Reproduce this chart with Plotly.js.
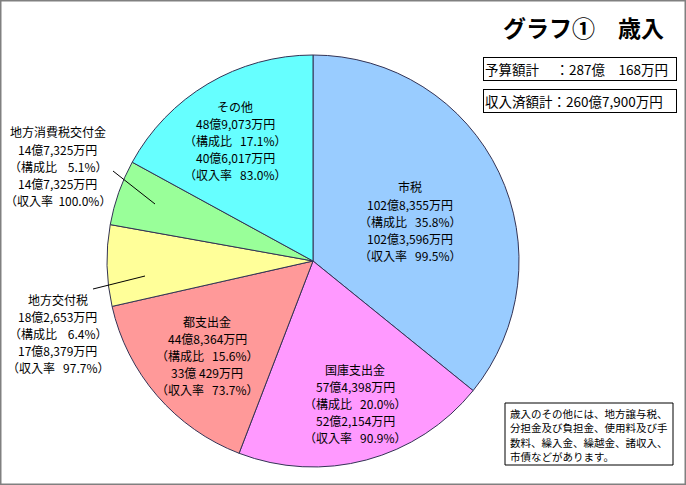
<!DOCTYPE html>
<html><head><meta charset="utf-8">
<script src="https://cdn.plot.ly/plotly-3.0.1.min.js"></script>
<style>html,body{margin:0;padding:0;background:#fff}</style>
</head><body><div id="chart" style="width:686px;height:485px"></div>
<script>
// Data (units: 万円)
const categories = ["市税","国庫支出金","都支出金","地方交付税","地方消費税交付金","その他"];
const budget = [1028355, 574398, 448364, 182653, 147325, 489073];
const revenue = [1023596, 522154, 330429, 178379, 147325, 406017];
const shareLabels = ["35.8%","20.0%","15.6%","6.4%","5.1%","17.1%"];
const rateLabels = ["99.5%","90.9%","73.7%","97.7%","100.0%","83.0%"];
const colors = ["#99CCFF","#FF99FF","#FF9999","#FFFF99","#99FF99","#66FFFF"];
const budgetTotal = "287億　168万円";
const revenueTotal = "260億7,900万円";
const noteLines = ["歳入のその他には、地方譲与税、","分担金及び負担金、使用料及び手","数料、繰入金、繰越金、諸収入、","市債などがあります。"];

function fmt(v){
  const oku = Math.floor(v/10000), man = v%10000;
  let m = man.toLocaleString("en-US");
  if (man < 1000) m = " " + m;
  return oku + "億" + m + "万円";
}
function pad(s, n){ while (s.length < n) s = " " + s; return s; }

const W = 686, H = 485;
const px = x => x/W, py = y => 1 - y/H;
const FAM = "Noto Sans CJK JP, sans-serif";

// label anchor positions (pixel, center x, first line center y)
const labelPos = [[410,187],[355,369],[207,321],[58,299],[58,132],[235,106]];
const LH = 17.2;
const font = {family:FAM, size:12, color:"#000"};

const annotations = [];
categories.forEach((c,i)=>{
  const lines = [c, fmt(budget[i]), "（構成比 " + pad(shareLabels[i],7) + "）",
                 fmt(revenue[i]), "（収入率 " + pad(rateLabels[i],7) + "）"];
  lines.forEach((t,k)=>annotations.push({
    xref:"paper", yref:"paper", x:px(labelPos[i][0]), y:py(labelPos[i][1] + k*LH),
    xanchor:"center", yanchor:"middle", showarrow:false, font:font, text:t, borderpad:0
  }));
});

annotations.push({xref:"paper",yref:"paper",x:px(583),y:py(27),xanchor:"center",yanchor:"middle",
  showarrow:false,text:"<b>グラフ①　歳入</b>",font:{family:FAM,size:23,color:"#000"}});
annotations.push({xref:"paper",yref:"paper",x:px(483),y:py(57),xanchor:"left",yanchor:"top",
  showarrow:false,text:"予算額計　 ：" + budgetTotal,align:"left",width:190,height:20,
  bordercolor:"#000",borderwidth:1,borderpad:1,bgcolor:"#fff",
  font:{family:FAM,size:13.5,color:"#000"}});
annotations.push({xref:"paper",yref:"paper",x:px(483),y:py(89),xanchor:"left",yanchor:"top",
  showarrow:false,text:"収入済額計：" + revenueTotal,align:"left",width:190,height:20,
  bordercolor:"#000",borderwidth:1,borderpad:1,bgcolor:"#fff",
  font:{family:FAM,size:13.5,color:"#000"}});
noteLines.forEach((t,k)=>annotations.push({xref:"paper",yref:"paper",x:px(509),y:py(413+k*14.5),
  xanchor:"left",yanchor:"middle",showarrow:false,text:t,borderpad:0,font:{family:FAM,size:10.5,color:"#000"}}));

const shapes = [
  {type:"rect",xref:"paper",yref:"paper",x0:0,x1:1,y0:0,y1:1,line:{color:"#808080",width:3}},
  {type:"rect",xref:"paper",yref:"paper",x0:px(505),x1:px(673),y0:py(403),y1:py(465),line:{color:"#000",width:1},fillcolor:"rgba(0,0,0,0)"},
  {type:"line",xref:"paper",yref:"paper",x0:px(113),y0:py(171),x1:px(155),y1:py(204),line:{color:"#000",width:1}},
  {type:"line",xref:"paper",yref:"paper",x0:px(93),y0:py(289),x1:px(145),y1:py(276),line:{color:"#000",width:1}}
];

const data = [{
  type:"pie", labels:categories, values:budget, sort:false, direction:"clockwise", rotation:0,
  marker:{colors:colors, line:{color:"#333355", width:1}},
  textinfo:"none", hoverinfo:"none",
  domain:{x:[(313-207)/W,(313+207)/W], y:[1-467/H, 1-55/H]}
}];

Plotly.newPlot("chart", data, {
  width:W, height:H, margin:{l:0,r:0,t:0,b:0}, showlegend:false,
  paper_bgcolor:"#fff", annotations:annotations, shapes:shapes
}, {staticPlot:true});
</script></body></html>
